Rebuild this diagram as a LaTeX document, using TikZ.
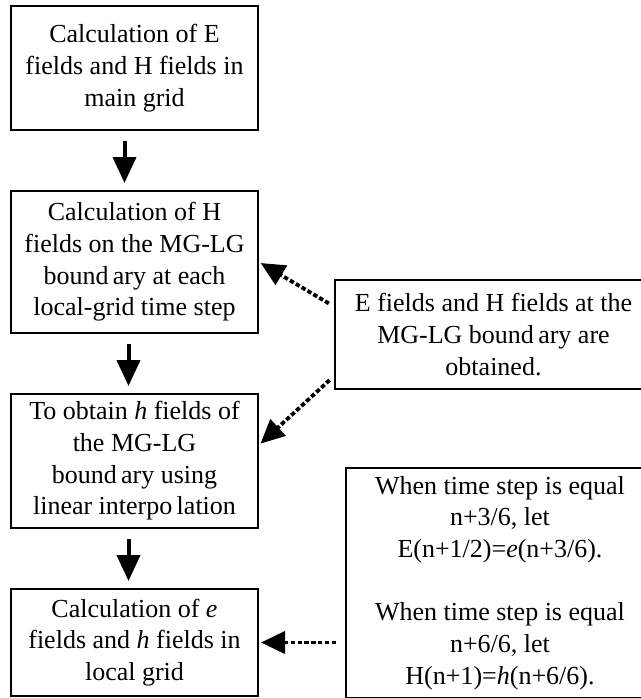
\documentclass[tikz,border=0pt]{standalone}
\usepackage{fontspec}
\setmainfont{Liberation Serif}
\usepackage{tikz}
\usetikzlibrary{arrows.meta,positioning,calc}

\begin{document}
\begin{tikzpicture}[
  node distance=29.5pt,
  box/.style={draw,line width=1pt,align=center,inner sep=0pt,minimum width=123.5pt,
    font=\fontsize{13pt}{15.85pt}\selectfont},
  note/.style={draw,line width=1pt,align=center,inner sep=0pt,
    font=\fontsize{13pt}{15.85pt}\selectfont},
  arr/.style={-{Triangle[length=13pt,width=11.5pt]},line width=2pt,shorten <=5pt,shorten >=3.5pt},
  dasharr/.style={-{Triangle[length=12pt,width=11pt]},line width=1.9pt,dash pattern=on 2.2pt off 1.2pt}
]
  \clip (0,0) rectangle (320.5pt,-349pt);
  \node[box,minimum height=62pt] (mainc) at (67.25pt,-34pt)
    {Calculation of E\\fields and H fields in\\main grid};
  \node[box,minimum height=71pt,below=of mainc] (bnd)
    {Calculation of H\\fields on the MG-LG\\bound\,ary at each\\local-grid time step};
  \node[box,minimum height=67pt,below=of bnd] (interp)
    {To obtain \textit{h} fields of\\the MG-LG\\bound\,ary using\\linear interpo\,lation};
  \node[box,minimum height=53.5pt,below=of interp] (loc)
    {Calculation of \textit{e}\\fields and \textit{h} fields in\\local grid};
  \node[note,minimum width=158.5pt,minimum height=54.5pt,right=37.5pt of bnd,yshift=-36.25pt] (obt)
    {E fields and H fields at the\\MG-LG bound\,ary are\\obtained.};
  \node[note,minimum width=154pt,minimum height=115pt,right=43pt of loc,yshift=29.75pt] (rule)
    {When time step is equal\\n+3/6, let\\E(n+1/2)=\textit{e}(n+3/6).\\[15.85pt]
     When time step is equal\\n+6/6, let\\H(n+1)=\textit{h}(n+6/6).};
  \draw[arr] ([xshift=-5pt]mainc.south) -- ([xshift=-5pt]bnd.north);
  \draw[arr] ([xshift=-3pt]bnd.south) -- ([xshift=-3pt]interp.north);
  \draw[arr] ([xshift=-3pt]interp.south) -- ([xshift=-3pt]loc.north);
  \draw[dasharr,shorten <=3pt,shorten >=1pt] ([yshift=14pt]obt.west) -- (bnd.east);
  \draw[dasharr,shorten <=3pt,shorten >=1pt] ([yshift=-20.75pt]obt.west) -- ([yshift=8pt]interp.east);
  \draw[dasharr,shorten <=4.5pt,shorten >=1pt] (rule.west |- loc.east) -- (loc.east);
\end{tikzpicture}
\end{document}
